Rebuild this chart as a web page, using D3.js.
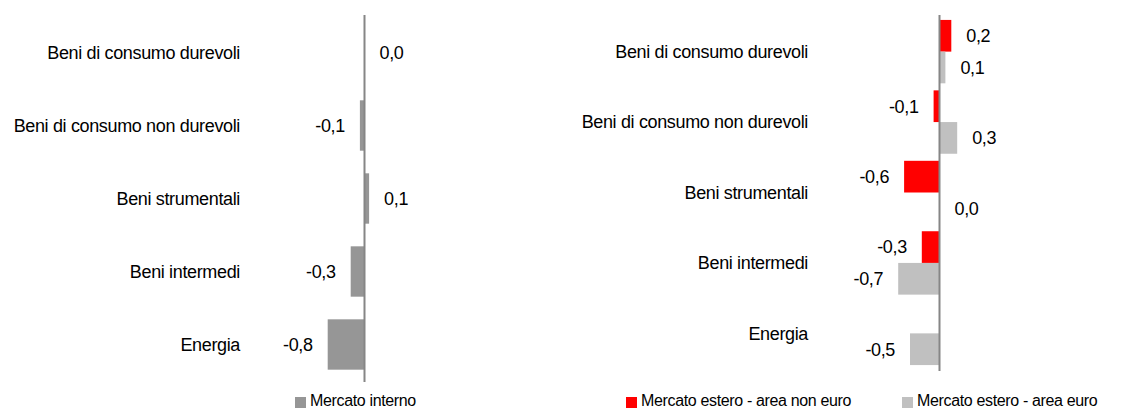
<!DOCTYPE html>
<html>
<head>
<meta charset="utf-8">
<script src="https://cdn.jsdelivr.net/npm/d3@7"></script>
<style>
  body { margin: 0; background: #fff; }
  text { font-family: "Liberation Sans", Arial, sans-serif; fill: #000; letter-spacing: -0.35px; }
</style>
</head>
<body>
<div id="chart"></div>
<script>
// data
const categories = ['Beni di consumo durevoli', 'Beni di consumo non durevoli', 'Beni strumentali', 'Beni intermedi', 'Energia'];
const mercatoInterno = [0.0, -0.1, 0.1, -0.3, -0.8];
const esteroNonEuro = [0.2, -0.1, -0.6, -0.3, null];
const esteroEuro = [0.1, 0.3, 0.0, -0.7, -0.5];
const seriesNames = ['Mercato interno', 'Mercato estero - area non euro', 'Mercato estero - area euro'];

const width = 1123, height = 410;
const fontSize = 18;
const axisColor = '#868686';
// italian decimals, plain hyphen for minus
const fmt = v => d3.format('.1f')(v).replace('.', ',').replace('\u2212', '-');

const svg = d3.select('#chart').append('svg')
  .attr('width', width)
  .attr('height', height);

function valueLabel(g, x, y, v) {
  g.append('text')
    .attr('x', v < 0 ? x(v) - 15 : x(v) + 15)
    .attr('y', y)
    .attr('dy', '0.35em')
    .attr('text-anchor', v < 0 ? 'end' : 'start')
    .attr('font-size', fontSize)
    .text(fmt(v));
}

// left chart
const xL = d3.scaleLinear().domain([-0.8, 0.1]).range([364.5 - 0.8 * 46, 364.5 + 0.1 * 46]);
const yL = d3.scaleBand().domain(categories).range([16, 381]).paddingInner(0.31).paddingOuter(0.155);
const left = svg.append('g');

left.selectAll('.catL').data(categories).enter().append('text')
  .attr('x', 240)
  .attr('y', d => yL(d) + yL.bandwidth() / 2)
  .attr('dy', '0.35em')
  .attr('text-anchor', 'end')
  .attr('font-size', fontSize)
  .text(d => d);

left.selectAll('.barL').data(mercatoInterno).enter().append('rect')
  .attr('x', d => xL(Math.min(0, d)))
  .attr('y', (d, i) => yL(categories[i]))
  .attr('width', d => Math.abs(xL(d) - xL(0)))
  .attr('height', yL.bandwidth())
  .attr('fill', '#969696');

mercatoInterno.forEach((v, i) => valueLabel(left, xL, yL(categories[i]) + yL.bandwidth() / 2, v));

left.append('line')
  .attr('x1', xL(0)).attr('x2', xL(0))
  .attr('y1', 15).attr('y2', 382)
  .attr('stroke', axisColor).attr('stroke-width', 2);

// right chart
const xR = d3.scaleLinear().domain([-0.7, 0.3]).range([939.5 - 0.7 * 59, 939.5 + 0.3 * 59]);
const yR = d3.scaleBand().domain(categories).range([15, 370]).paddingInner(0.1).paddingOuter(0.07);
const sub = d3.scaleBand().domain([0, 1]).range([0, yR.bandwidth()]);
const right = svg.append('g');

right.selectAll('.catR').data(categories).enter().append('text')
  .attr('x', 808)
  .attr('y', d => yR(d) + yR.bandwidth() / 2)
  .attr('dy', '0.35em')
  .attr('text-anchor', 'end')
  .attr('font-size', fontSize)
  .text(d => d);

const rightSeries = [
  { values: esteroNonEuro, color: '#ff0000' },
  { values: esteroEuro, color: '#c0c0c0' }
];

rightSeries.forEach((s, k) => {
  s.values.forEach((v, i) => {
    if (v === null) return;
    const y0 = yR(categories[i]) + sub(k);
    right.append('rect')
      .attr('x', xR(Math.min(0, v)))
      .attr('y', y0)
      .attr('width', Math.abs(xR(v) - xR(0)))
      .attr('height', sub.bandwidth())
      .attr('fill', s.color);
    valueLabel(right, xR, y0 + sub.bandwidth() / 2, v);
  });
});

right.append('line')
  .attr('x1', xR(0)).attr('x2', xR(0))
  .attr('y1', 15).attr('y2', 371)
  .attr('stroke', axisColor).attr('stroke-width', 2);

// legends
const legendItems = [
  { name: seriesNames[0], color: '#969696', x: 295 },
  { name: seriesNames[1], color: '#ff0000', x: 626 },
  { name: seriesNames[2], color: '#c0c0c0', x: 902 }
];
legendItems.forEach(l => {
  svg.append('rect')
    .attr('x', l.x).attr('y', 397)
    .attr('width', 11).attr('height', 11)
    .attr('fill', l.color);
  svg.append('text')
    .attr('x', l.x + 15).attr('y', 406)
    .attr('font-size', 16)
    .text(l.name);
});
</script>
</body>
</html>
